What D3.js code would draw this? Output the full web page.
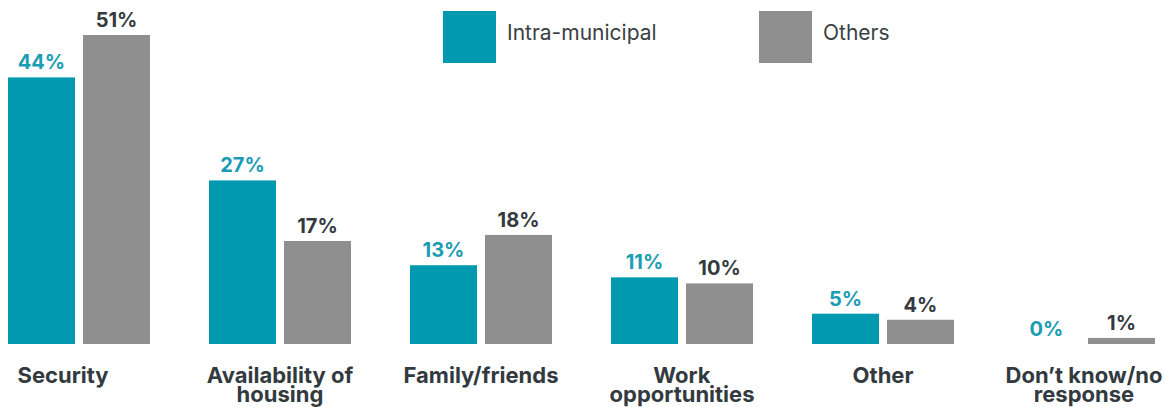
<!DOCTYPE html>
<html>
<head>
<meta charset="utf-8">
<script src="https://cdn.jsdelivr.net/npm/d3@7"></script>
<style>
  html, body { margin: 0; padding: 0; background: #fff; }
  svg { display: block; }
  text { font-family: Inter, Lato, "Open Sans", sans-serif; }
</style>
</head>
<body>
<svg id="chart" width="1165" height="407"></svg>
<script>
const categories = ["Security", "Availability of housing", "Family/friends", "Work opportunities", "Other", "Don\u2019t know/no response"];
const categoryLines = [["Security"], ["Availability of", "housing"], ["Family/friends"], ["Work", "opportunities"], ["Other"], ["Don\u2019t know/no", "response"]];
const seriesNames = ["Intra-municipal", "Others"];
const intraMunicipal = [44, 27, 13, 11, 5, 0];
const others = [51, 17, 18, 10, 4, 1];

const colors = ["#0099b0", "#8f8f8f"];
const labelColors = ["#1a9db4", "#333a3f"];

const svg = d3.select("#chart");
const baseline = 344;

const x0 = d3.scaleBand().domain(categories).range([8, 1155]).paddingInner(0.2935).paddingOuter(0);
const x1 = d3.scaleBand().domain(seriesNames).range([0, x0.bandwidth()]).paddingInner(0.1067).paddingOuter(0);
const y = d3.scaleLinear().domain([0, 51]).range([baseline, 35]);

const data = categories.map((c, i) => ({
  cat: c, lines: categoryLines[i],
  vals: [{s: seriesNames[0], v: intraMunicipal[i], k: 0}, {s: seriesNames[1], v: others[i], k: 1}]
}));

const g = svg.selectAll("g.grp").data(data).join("g")
  .attr("class", "grp")
  .attr("transform", d => `translate(${x0(d.cat)},0)`);

g.selectAll("rect").data(d => d.vals).join("rect")
  .attr("x", d => x1(d.s))
  .attr("width", x1.bandwidth())
  .attr("y", d => y(d.v))
  .attr("height", d => baseline - y(d.v))
  .attr("fill", d => colors[d.k]);

g.selectAll("text.val").data(d => d.vals).join("text")
  .attr("class", "val")
  .attr("x", d => x1(d.s) + x1.bandwidth() / 2)
  .attr("y", d => y(d.v) - 8)
  .attr("text-anchor", "middle")
  .attr("font-size", 20)
  .attr("font-weight", 700)
  .attr("fill", d => labelColors[d.k])
  .text(d => d.v + "%");

// first category label sits slightly left of its group in the original
const catDx = (d, i) => x0.bandwidth() / 2 + (i === 0 ? -16 : 0);
const cl = g.append("text")
  .attr("class", "cat")
  .attr("y", 383)
  .attr("text-anchor", "middle")
  .attr("font-size", 22)
  .attr("font-weight", 700)
  .attr("fill", "#333a3f");
cl.each(function(d, gi) {
  d3.select(this).selectAll("tspan").data(d.lines).join("tspan")
    .attr("x", catDx(d, gi))
    .attr("dy", (t, i) => i === 0 ? 0 : 19)
    .text(t => t);
});

// legend
const legendX = [443, 759];
const leg = svg.selectAll("g.leg").data(seriesNames).join("g")
  .attr("class", "leg")
  .attr("transform", (d, i) => `translate(${legendX[i]},11)`);
leg.append("rect").attr("width", 53).attr("height", 52).attr("fill", (d, i) => colors[i]);
leg.append("text")
  .attr("x", 64).attr("y", 29)
  .attr("font-size", 21)
  .attr("fill", "#3a3f44")
  .text(d => d);
</script>
</body>
</html>
